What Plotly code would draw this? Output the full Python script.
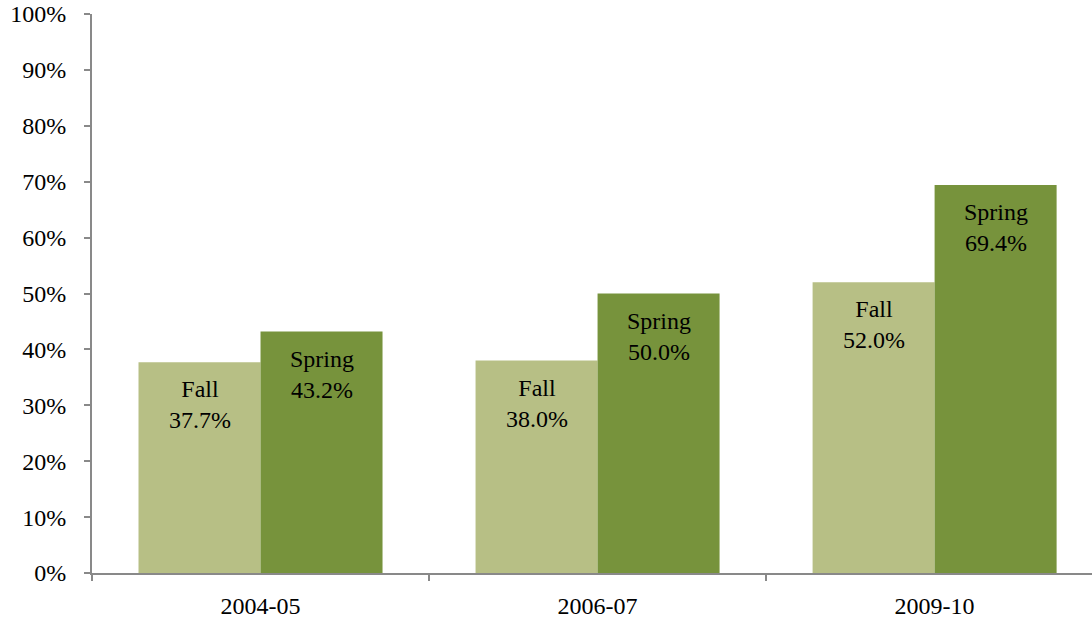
import plotly.graph_objects as go

categories = ["2004-05", "2006-07", "2009-10"]
fall_values = [37.7, 38.0, 52.0]
spring_values = [43.2, 50.0, 69.4]
series_names = ["Fall", "Spring"]
y_ticks = list(range(0, 101, 10))

FALL_COLOR = "#B7BF85"
SPRING_COLOR = "#77933C"
AXIS_COLOR = "#898989"
FONT = "Liberation Serif"

W, H = 1092, 627
margin = dict(l=92, r=0, t=14, b=54)
x_range = [-0.5, 2.467]
bargap = 0.276

fig = go.Figure()
fig.add_trace(go.Bar(x=categories, y=fall_values, name=series_names[0],
                     marker=dict(color=FALL_COLOR, line=dict(width=0))))
fig.add_trace(go.Bar(x=categories, y=spring_values, name=series_names[1],
                     marker=dict(color=SPRING_COLOR, line=dict(width=0))))

plot_w = W - margin["l"] - margin["r"]
cat_px = plot_w / (x_range[1] - x_range[0])
half_bar = cat_px * (1 - bargap) / 4

for name, vals, sign in [(series_names[0], fall_values, -1), (series_names[1], spring_values, 1)]:
    for c, v in zip(categories, vals):
        fig.add_annotation(x=c, y=v, text=f"{name}<br>{v:.1f}%", showarrow=False,
                           xref="x", yref="y", yanchor="top", xanchor="center",
                           xshift=sign * half_bar, yshift=-12,
                           font=dict(family=FONT, size=24, color="black"))

fig.update_layout(
    width=W, height=H, margin=margin,
    barmode="group", bargap=bargap, bargroupgap=0,
    showlegend=False,
    plot_bgcolor="white", paper_bgcolor="white",
    font=dict(family=FONT, size=24, color="black"),
    xaxis=dict(type="category", range=x_range, showline=True, linecolor=AXIS_COLOR, linewidth=2,
               ticks="outside", tickson="boundaries", ticklen=6, tickcolor=AXIS_COLOR,
               tickwidth=2, showgrid=False, zeroline=False, ticklabelstandoff=10,
               tickfont=dict(family=FONT, size=24, color="black")),
    yaxis=dict(range=[0, 100], tickvals=y_ticks, ticktext=[f"{t}%" for t in y_ticks],
               showline=True, linecolor=AXIS_COLOR, linewidth=2,
               ticks="outside", ticklen=6, tickcolor=AXIS_COLOR, tickwidth=2,
               showgrid=False, zeroline=False, ticklabelstandoff=13,
               tickfont=dict(family=FONT, size=24, color="black")),
)

fig.write_html("out.html", config={"displayModeBar": False})
with open("out.html", encoding="utf-8") as f:
    html = f.read()
html = html.replace("<body>", '<body style="margin:0;overflow:hidden">', 1)
with open("out.html", "w", encoding="utf-8") as f:
    f.write(html)
